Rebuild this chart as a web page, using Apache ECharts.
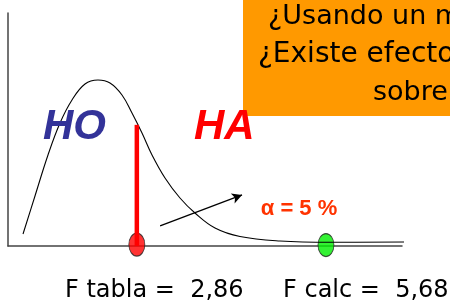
<!DOCTYPE html>
<html>
<head>
<meta charset="utf-8">
<script src="https://cdn.jsdelivr.net/npm/echarts@6/dist/echarts.min.js"></script>
<style>html,body{margin:0;padding:0;background:#fff}#c{width:450px;height:306px}</style>
</head>
<body>
<div id="c"></div>
<script>
// Density curve (schematic F distribution), axis units 0..100
var curveX = [3.81, 6.85, 10.15, 13.20, 16.24, 19.54, 22.84, 25.89, 28.93, 31.47, 34.01, 36.55, 39.85, 43.65, 47.46, 52.54, 58.88, 69.04, 81.73, 101.52];
var curveY = [5.15, 21.46, 39.06, 52.79, 62.66, 69.53, 71.24, 69.96, 64.81, 57.08, 48.50, 39.06, 29.18, 20.60, 14.16, 7.73, 4.08, 2.15, 1.59, 1.72];
// Critical value line and markers
var critX = 32.7;
var critTop = 52.0;
var markerX = [32.7, 80.7];
var markerY = [0.6, 0.4];
var markerNames = ['F tabla', 'F calc'];
// Arrow pointing to rejection area
var arrowFrom = [38.6, 8.6];
var arrowTo = [59.4, 21.9];
// Texts
var hypothesisLabels = ['HO', 'HA'];
var alphaLabel = 'α = 5 %';
var fTablaLabel = 'F tabla =  2,86';
var fCalcLabel = 'F calc =  5,68';
var questionLines = ['¿Usando un modelo', '¿Existe efecto', 'sobre'];

var chart = echarts.init(document.getElementById('c'), null, {renderer: 'canvas'});
var curveData = curveX.map(function (x, i) { return [x, curveY[i]]; });

var comic = '"DejaVu Sans", sans-serif';
var bold = '"Liberation Sans", Arial, sans-serif';

chart.setOption({
  animation: false,
  backgroundColor: '#ffffff',
  grid: {left: 8, right: 48, top: 13, bottom: 60},
  xAxis: {
    type: 'value', min: 0, max: 100,
    axisLine: {show: true, lineStyle: {color: '#444', width: 1.5}},
    axisTick: {show: false}, axisLabel: {show: false}, splitLine: {show: false}
  },
  yAxis: {
    type: 'value', min: 0, max: 100,
    axisLine: {show: true, lineStyle: {color: '#444', width: 1.5}},
    axisTick: {show: false}, axisLabel: {show: false}, splitLine: {show: false}
  },
  series: [
    {
      type: 'line', data: curveData, smooth: 0.4, showSymbol: false, clip: false,
      lineStyle: {color: '#000', width: 1.1},
      markLine: {
        silent: true, symbol: ['none', 'arrow'], symbolSize: [8, 10],
        label: {show: false},
        lineStyle: {color: '#000', width: 1.3, type: 'solid'},
        data: [[{coord: arrowFrom}, {coord: arrowTo}]]
      }
    },
    {
      type: 'line', data: [[critX, 0], [critX, critTop]], showSymbol: false, clip: false,
      lineStyle: {color: '#ff0000', width: 4.5}
    },
    {
      type: 'scatter', clip: false, symbol: 'circle', symbolSize: [16, 23],
      data: markerX.map(function (x, i) {
        return {
          name: markerNames[i], value: [x, markerY[i]],
          itemStyle: {color: i === 0 ? '#ff0000' : '#00ee00', borderColor: '#222', borderWidth: 1}
        };
      })
    }
  ],
  graphic: [
    {type: 'rect', shape: {x: 243, y: 0, width: 220, height: 116}, style: {fill: '#ff9900'}, z: 10},
    {type: 'text', x: 268, y: 17, z: 11, style: {text: questionLines[0], font: '27px ' + comic, fill: '#000', verticalAlign: 'middle', align: 'left'}},
    {type: 'text', x: 258, y: 55, z: 11, style: {text: questionLines[1], font: '28px ' + comic, fill: '#000', verticalAlign: 'middle', align: 'left'}},
    {type: 'text', x: 373, y: 93, z: 11, style: {text: questionLines[2], font: '27px ' + comic, fill: '#000', verticalAlign: 'middle', align: 'left'}},
    {type: 'text', x: 43, y: 127, z: 12, style: {text: hypothesisLabels[0], font: 'italic bold 42px ' + bold, fill: '#333399', verticalAlign: 'middle', align: 'left'}},
    {type: 'text', x: 194, y: 127, z: 12, style: {text: hypothesisLabels[1], font: 'italic bold 42px ' + bold, fill: '#ff0000', verticalAlign: 'middle', align: 'left'}},
    {type: 'text', x: 299, y: 209, z: 12, style: {text: alphaLabel, font: 'bold 22px ' + bold, fill: '#ff3300', verticalAlign: 'middle', align: 'center'}},
    {type: 'text', x: 65, y: 291, z: 12, style: {text: fTablaLabel, font: '24px ' + comic, fill: '#000', verticalAlign: 'middle', align: 'left'}},
    {type: 'text', x: 283, y: 291, z: 12, style: {text: fCalcLabel, font: '24px ' + comic, fill: '#000', verticalAlign: 'middle', align: 'left'}}
  ]
});
</script>
</body>
</html>
